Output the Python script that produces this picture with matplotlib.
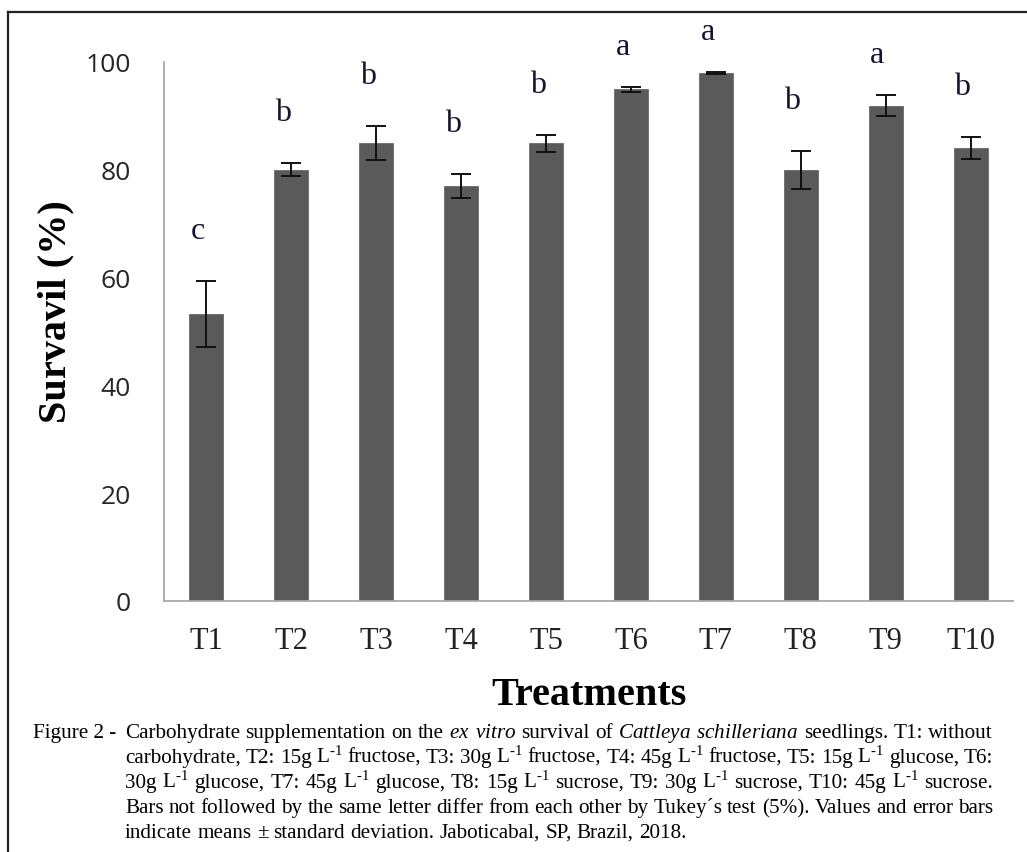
import matplotlib
matplotlib.use("Agg")
import matplotlib.pyplot as plt
from matplotlib.lines import Line2D

plt.rcParams.update({
    "mathtext.fontset": "custom",
    "mathtext.rm": "Liberation Serif",
    "mathtext.it": "Liberation Serif:italic",
    "mathtext.bf": "Liberation Serif:bold",
})

# values
treatments = ["T1", "T2", "T3", "T4", "T5", "T6", "T7", "T8", "T9", "T10"]
survival = [53.3, 80.0, 85.0, 77.0, 84.9, 94.9, 97.9, 80.0, 91.9, 84.0]
std_dev = [6.1, 1.2, 3.1, 2.3, 1.6, 0.4, 0.2, 3.5, 1.9, 2.0]
letters = ["c", "b", "b", "b", "b", "a", "a", "b", "a", "b"]
y_ticks = [0, 20, 40, 60, 80, 100]

SUP = "L$^{\\text{-1}}$"
caption_label = "Figure 2 -"
caption_lines = [
    "Carbohydrate supplementation on the $\\mathit{ex}$ $\\mathit{vitro}$ survival of "
    "$\\mathit{Cattleya}$ $\\mathit{schilleriana}$ seedlings. T1: without",
    f"carbohydrate, T2: 15g {SUP} fructose, T3: 30g {SUP} fructose, T4: 45g {SUP} "
    f"fructose, T5: 15g {SUP} glucose, T6:",
    f"30g {SUP} glucose, T7: 45g {SUP} glucose, T8: 15g {SUP} sucrose, T9: 30g "
    f"{SUP} sucrose, T10: 45g {SUP} sucrose.",
    "Bars not followed by the same letter differ from each other by Tukey\u00b4s test (5%). "
    "Values and error bars",
    "indicate means \u00b1 standard deviation. Jaboticabal, SP, Brazil, 2018.",
]

W, H = 1027, 853
fig = plt.figure(figsize=(W / 100, H / 100), dpi=100)
ax = fig.add_axes([164 / W, 1 - 602 / H, 849 / W, 539 / H])

x = list(range(len(treatments)))
ax.bar(x, survival, width=0.4, color="#5a5a5a", edgecolor="#6a6a6a", linewidth=0.6,
       zorder=2)
ax.errorbar(x, survival, yerr=std_dev, fmt="none", ecolor="#111111", elinewidth=1.4,
            capsize=7, capthick=1.4, zorder=3)

for xi, v, s, lab in zip(x, survival, std_dev, letters):
    lift = 24 if lab == "a" else 31
    ax.annotate(lab, (xi, v + s), xytext=(-6, lift), textcoords="offset points",
                ha="center", va="baseline", fontsize=23, family="Liberation Serif",
                color="#14142e", annotation_clip=False)

ax.set_xlim(-0.5, len(treatments) - 0.5)
ax.set_ylim(0, 100)
ax.set_yticks(y_ticks)
ax.set_yticklabels([str(t) for t in y_ticks], fontsize=19, family="Open Sans",
                   color="#262626")
ax.set_xticks(x)
ax.set_xticklabels(treatments, fontsize=22, family="Liberation Serif", color="#222222")
ax.tick_params(axis="y", length=0, pad=24)
ax.tick_params(axis="x", length=0, pad=18)
for side in ("top", "right"):
    ax.spines[side].set_visible(False)
for side in ("left", "bottom"):
    ax.spines[side].set_color("#a8a8a8")
    ax.spines[side].set_linewidth(1.3)

fig.text(56 / W, 1 - 312 / H, "Survavil (%)", rotation=90, ha="center", va="center",
         fontsize=29, fontweight="bold", family="Liberation Serif")
fig.text(589 / W, 1 - 705 / H, "Treatments", ha="center", va="baseline",
         fontsize=29, fontweight="bold", family="Liberation Serif")

# frame around the figure (only left and top edges are inside the crop)
fig.add_artist(Line2D([8 / W, 8 / W], [0, 1 - 13 / H], color="#222222", lw=1.6))
fig.add_artist(Line2D([8 / W, 1], [1 - 13 / H, 1 - 13 / H], color="#222222", lw=1.6))

# caption, justified like the source text
fig.canvas.draw()
renderer = fig.canvas.get_renderer()


def text_width(s, size):
    t = fig.text(0, 0, s, fontsize=size, family="Liberation Serif")
    w = t.get_window_extent(renderer).width
    t.remove()
    return w


left_px, right_px = 125, 993
base_size = 10.0
cap_size = base_size * 562 / text_width(caption_lines[-1], base_size)
space_w = text_width("x x", cap_size) - text_width("xx", cap_size)

fig.text(33 / W, 1 - 738 / H, caption_label, fontsize=cap_size,
         family="Liberation Serif", va="baseline")
for i, line in enumerate(caption_lines):
    base_y = 1 - (738 + 25 * i) / H
    words = line.split(" ")
    widths = [text_width(wd, cap_size) for wd in words]
    if i < len(caption_lines) - 1:
        gap = (right_px - left_px - sum(widths)) / (len(words) - 1)
    else:
        gap = space_w
    xp = left_px
    for wd, ww in zip(words, widths):
        fig.text(xp / W, base_y, wd, fontsize=cap_size, family="Liberation Serif",
                 va="baseline")
        xp += ww + gap

fig.savefig("out.png", dpi=100)
